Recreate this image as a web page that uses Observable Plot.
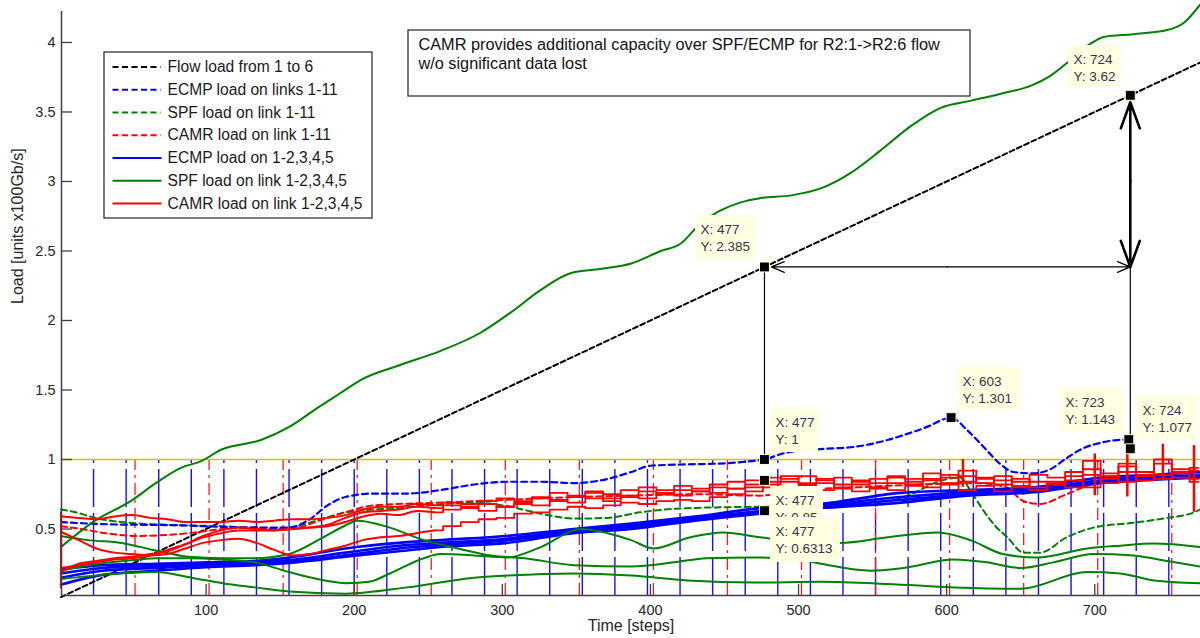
<!DOCTYPE html>
<html><head><meta charset="utf-8">
<script src="https://cdn.jsdelivr.net/npm/d3@7"></script>
<script src="https://cdn.jsdelivr.net/npm/@observablehq/plot@0.6"></script>
<style>
html,body{margin:0;padding:0;background:#fff;}
#chart{width:1200px;height:638px;overflow:hidden;}
</style></head><body><div id="chart"></div>
<script>
// ---------- tick labels ----------
const xTicks = [100, 200, 300, 400, 500, 600, 700];
const yTicks = [0.5, 1, 1.5, 2, 2.5, 3, 3.5, 4];

// ---------- event markers (vertical lines) ----------
const blueMarkX = [24,46,68,90,112,134,156,178,200,222,244,266,288,310,332,354,376,398,420,442,464,486,508,530,552,574,596,618,640,662,684,706,728,750];
const redMarkX = [52,102,152,202,252,302,352,402,452,502,552,602,652,702,752];
const capacityLevel = [1];

// ---------- Flow load from 1 to 6 ----------
const flowX = [2, 771];
const flowY = [0.01, 3.855];

// ---------- ECMP load on links 1-11 (blue dashed) ----------
const ecmpLinkX = [2, 30, 88, 111, 156, 170, 182, 194, 213, 236, 258, 281, 303, 326, 348, 371, 387, 400, 425, 450, 465, 477, 490, 515, 537, 560, 575, 588, 598, 603, 614, 625, 636, 645, 659, 670, 681, 692, 704, 715, 723];
const ecmpLinkY = [0.55, 0.535, 0.525, 0.515, 0.51, 0.57, 0.67, 0.73, 0.755, 0.755, 0.78, 0.82, 0.84, 0.84, 0.83, 0.86, 0.91, 0.955, 0.965, 0.972, 0.985, 1.0, 1.045, 1.075, 1.09, 1.14, 1.19, 1.24, 1.29, 1.301, 1.21, 1.09, 0.97, 0.91, 0.90, 0.93, 1.01, 1.08, 1.12, 1.14, 1.143];

// ---------- SPF load on link 1-11 (green dashed) ----------
const spfLinkX = [2, 12, 25, 43, 88, 111, 142, 156, 179, 194, 227, 249, 281, 303, 326, 348, 371, 393, 425, 470, 515, 560, 576, 594, 609, 617, 625, 633, 641, 652, 663, 681, 699, 726, 749, 767, 771];
const spfLinkY = [0.64, 0.62, 0.58, 0.55, 0.525, 0.52, 0.50, 0.51, 0.575, 0.62, 0.65, 0.67, 0.69, 0.665, 0.61, 0.575, 0.58, 0.62, 0.65, 0.66, 0.67, 0.70, 0.75, 0.84, 0.87, 0.76, 0.63, 0.52, 0.44, 0.33, 0.33, 0.44, 0.51, 0.545, 0.58, 0.62, 0.64];

// ---------- CAMR load on link 1-11 (red dashed) ----------
const camrLinkX = [2, 16, 32, 54, 88, 111, 133, 156, 179, 194, 213, 258, 303, 348, 387, 430, 474, 500, 540, 580, 620, 640, 652, 663, 681, 704, 740, 771];
const camrLinkY = [0.52, 0.50, 0.47, 0.45, 0.47, 0.50, 0.51, 0.50, 0.57, 0.62, 0.67, 0.69, 0.71, 0.73, 0.74, 0.75, 0.74, 0.78, 0.80, 0.82, 0.83, 0.80, 0.70, 0.68, 0.75, 0.84, 0.86, 0.88];

// ---------- ECMP load on 1-2,3,4,5 (blue solid, 4 links) ----------
const ecmpX = [2, 30, 66, 100, 133, 160, 194, 230, 258, 303, 348, 387, 430, 474, 515, 569, 614, 659, 704, 740, 771];
const ecmp1 = [0.21, 0.24, 0.25, 0.26, 0.27, 0.30, 0.36, 0.40, 0.42, 0.45, 0.50, 0.54, 0.59, 0.65, 0.68, 0.76, 0.78, 0.80, 0.87, 0.89, 0.91];
const ecmp2 = [0.18, 0.22, 0.235, 0.25, 0.26, 0.28, 0.33, 0.38, 0.40, 0.43, 0.49, 0.525, 0.58, 0.63, 0.67, 0.73, 0.765, 0.785, 0.85, 0.875, 0.89];
const ecmp3 = [0.15, 0.20, 0.22, 0.24, 0.25, 0.27, 0.31, 0.36, 0.385, 0.42, 0.48, 0.515, 0.57, 0.62, 0.66, 0.71, 0.75, 0.775, 0.84, 0.865, 0.88];
const ecmp4 = [0.10, 0.17, 0.20, 0.225, 0.24, 0.26, 0.30, 0.34, 0.37, 0.40, 0.47, 0.50, 0.56, 0.61, 0.65, 0.69, 0.74, 0.765, 0.83, 0.855, 0.87];

// ---------- SPF load on link 1-2,3,4,5 (green solid) ----------
const spfMainX = [2, 25, 49, 66, 83, 97, 110, 137, 157, 175, 191, 204, 231, 258, 285, 306, 326, 346, 366, 387, 407, 420, 434, 447, 461, 474, 495, 515, 535, 555, 576, 596, 616, 636, 657, 670, 682, 697, 706, 726, 749, 760, 771];
const spfMainY = [0.37, 0.56, 0.70, 0.83, 0.94, 0.99, 1.07, 1.14, 1.24, 1.37, 1.48, 1.57, 1.68, 1.78, 1.91, 2.06, 2.22, 2.34, 2.37, 2.41, 2.50, 2.55, 2.70, 2.79, 2.85, 2.88, 2.90, 2.95, 3.06, 3.22, 3.40, 3.53, 3.58, 3.63, 3.69, 3.76, 3.86, 3.99, 4.04, 4.06, 4.09, 4.14, 4.27];
const spfPX = [2, 20, 43, 66, 88, 111, 133, 156, 179, 194, 202, 224, 247, 270, 292, 315, 348, 387, 416, 438, 470, 500, 515, 549, 571, 605, 627, 650, 672, 699, 726, 749, 771];
const spfPY = [0.45, 0.42, 0.40, 0.345, 0.30, 0.29, 0.29, 0.32, 0.44, 0.525, 0.56, 0.51, 0.42, 0.36, 0.31, 0.29, 0.24, 0.23, 0.26, 0.29, 0.295, 0.28, 0.25, 0.20, 0.22, 0.28, 0.26, 0.22, 0.26, 0.32, 0.31, 0.27, 0.23];
const spfQX = [2, 20, 45, 66, 90, 111, 133, 156, 175, 195, 210, 224, 247, 258, 281, 303, 326, 353, 371, 387, 402, 427, 449, 474, 500, 528, 560, 594, 616, 638, 661, 695, 717, 740, 771];
const spfQY = [0.20, 0.24, 0.27, 0.29, 0.29, 0.28, 0.26, 0.19, 0.14, 0.11, 0.12, 0.18, 0.29, 0.32, 0.31, 0.295, 0.37, 0.50, 0.47, 0.42, 0.36, 0.44, 0.475, 0.44, 0.41, 0.40, 0.44, 0.475, 0.42, 0.32, 0.295, 0.36, 0.38, 0.395, 0.37];
const spfRX = [2, 30, 66, 90, 111, 133, 156, 194, 236, 281, 303, 348, 387, 425, 470, 515, 560, 605, 650, 695, 717, 740, 771];
const spfRY = [0.14, 0.17, 0.19, 0.15, 0.11, 0.08, 0.05, 0.035, 0.08, 0.15, 0.165, 0.18, 0.165, 0.13, 0.115, 0.12, 0.105, 0.08, 0.07, 0.19, 0.18, 0.13, 0.11];

// ---------- CAMR load on link 1-2,3,4,5 (red solid, 4 links) ----------
const camrX = [2,14,26,38,50,62,74,86,98,110,122,134,146,158,170,182,194,206,218,230,242,254,266,278,290,302,314,326,338,350,362,374,386,398,410,422,434,446,458,470,482,494,506,518,530,542,554,566,578,590,602,614,626,638,650,662,674,686,698,710,722,734,746,758,770];
const camr1 = [0.59,0.58,0.57,0.59,0.60,0.58,0.57,0.55,0.55,0.55,0.56,0.55,0.56,0.57,0.57,0.58,0.60,0.64,0.66,0.66,0.68,0.67,0.69,0.68,0.70,0.72,0.70,0.73,0.76,0.74,0.77,0.75,0.78,0.80,0.78,0.81,0.79,0.82,0.84,0.85,0.87,0.86,0.88,0.85,0.87,0.84,0.86,0.88,0.86,0.90,0.87,0.92,0.86,0.88,0.84,0.89,0.87,0.91,0.99,0.90,0.95,0.91,0.97,0.90,0.94];
const camr2 = [0.48,0.42,0.36,0.33,0.32,0.31,0.32,0.36,0.40,0.42,0.43,0.40,0.35,0.31,0.32,0.35,0.38,0.42,0.44,0.45,0.47,0.49,0.52,0.55,0.57,0.58,0.61,0.62,0.64,0.66,0.65,0.67,0.69,0.68,0.70,0.71,0.70,0.73,0.75,0.77,0.80,0.79,0.81,0.78,0.80,0.77,0.79,0.78,0.81,0.80,0.83,0.78,0.81,0.77,0.80,0.78,0.83,0.85,0.80,0.88,0.84,0.89,0.86,0.91,0.86];
const camr3 = [0.22,0.24,0.26,0.28,0.29,0.31,0.35,0.39,0.44,0.47,0.49,0.49,0.49,0.50,0.51,0.53,0.58,0.62,0.63,0.64,0.66,0.65,0.67,0.66,0.68,0.66,0.69,0.72,0.70,0.73,0.76,0.72,0.74,0.77,0.75,0.78,0.77,0.80,0.79,0.82,0.84,0.88,0.83,0.86,0.82,0.85,0.83,0.87,0.84,0.85,0.89,0.84,0.87,0.82,0.86,0.80,0.84,0.88,0.93,0.86,0.91,0.88,1.00,0.87,0.92];
const camr4 = [0.19,0.25,0.27,0.29,0.30,0.32,0.34,0.39,0.45,0.49,0.51,0.50,0.49,0.50,0.51,0.52,0.55,0.59,0.61,0.60,0.63,0.62,0.64,0.65,0.63,0.66,0.68,0.67,0.71,0.69,0.72,0.70,0.73,0.72,0.76,0.74,0.77,0.76,0.79,0.80,0.82,0.84,0.82,0.83,0.79,0.82,0.80,0.83,0.82,0.86,0.82,0.88,0.83,0.85,0.81,0.84,0.82,0.80,0.89,0.83,0.97,0.85,0.89,0.93,0.84];
const camrStartX = [2, 2];
const camrStartY = [0.08, 0.62];
const camrSpikeX = [611, 700, 722, 746, 767];
const camrSpikeLo = [0.80, 0.74, 0.73, 0.85, 0.62];
const camrSpikeHi = [1.00, 1.04, 1.08, 1.11, 1.10];
const camrNoisyFrom = 254; // the links become jittery after this step

// ---------- data tips ----------
const tipX = [477, 724, 477, 477, 477, 603, 723, 724];
const tipY = [2.385, 3.62, 1, 0.85, 0.6313, 1.301, 1.143, 1.077];

// ---------- legend ----------
const legendLabels = ["Flow load from 1 to 6", "ECMP load on links 1-11", "SPF load on link 1-11", "CAMR load on link 1-11", "ECMP load on 1-2,3,4,5", "SPF load on link 1-2,3,4,5", "CAMR load on link 1-2,3,4,5"];
const legendColors = ["#000000", "#0000ff", "#008000", "#ff0000", "#0000ff", "#008000", "#ff0000"];
const legendDashed = [true, true, true, true, false, false, false];

const noteLines = ["CAMR provides additional capacity over SPF/ECMP for R2:1->R2:6 flow", "w/o significant data lost"];

// ---------- layout ----------
const W = 1200, H = 638, ML = 61, MB = 43;
const xDomain = [2.36, 771.4], yDomain = [0.0216, 4.302];
const sx = Plot.scale({x: {domain: xDomain, range: [ML, W]}});
const sy = Plot.scale({y: {domain: yDomain, range: [H - MB, 0]}});
const ix = p => sx.invert(p), iy = p => sy.invert(p);
const FONT = "'Liberation Sans', Arial, Helvetica, sans-serif";

const rows = (xs, ys, key) => xs.map((x, i) => ({x, y: ys[i], key}));
const blueBundle = [ecmp1, ecmp2, ecmp3, ecmp4].flatMap((ys, k) => rows(ecmpX, ys, k));
const greenLows = [[spfPX, spfPY], [spfQX, spfQY], [spfRX, spfRY]].flatMap(([xs, ys], k) => rows(xs, ys, k));
const redBundle = [camr1, camr2, camr3, camr4].flatMap((ys, k) => rows(camrX, ys, k));

const tipBoxes = [
  [695, 215, 755, 260],
  [1068, 45, 1120, 86],
  [770, 408, 818, 452],
  [770, 486, 823, 520],
  [770, 517, 840, 562],
  [957, 367, 1020, 410],
  [1060, 388, 1122, 432],
  [1137, 396, 1197, 440]
];

const tipMarks = tipX.flatMap((x, i) => {
  const b = tipBoxes[i];
  const lines = [
    {x: ix(b[0] + 5), y: iy(b[1] + 14), t: `X: ${x}`},
    {x: ix(b[0] + 5), y: iy(b[1] + 31), t: `Y: ${tipY[i]}`}
  ];
  return [
    Plot.rect([{x1: ix(b[0]), x2: ix(b[2]), y1: iy(b[3]), y2: iy(b[1])}], {x1: "x1", x2: "x2", y1: "y1", y2: "y2", fill: "#ffffe1"}),
    Plot.text(lines, {x: "x", y: "y", text: "t", textAnchor: "start", fontSize: 13.5, fill: "#33334a"})
  ];
});

const legendRows = legendLabels.map((label, i) => ({label, color: legendColors[i], dashed: legendDashed[i], y: iy(66.5 + 22.75 * i)}));

const mid = (a, b) => (a + b) / 2;
const hArrowY = tipY[0];
const marks = [
  Plot.ruleX(blueMarkX, {y1: yDomain[0], y2: capacityLevel[0], stroke: "#1010ff", strokeWidth: 1.4, strokeDasharray: "38,6"}),
  Plot.ruleX(redMarkX, {y1: yDomain[0], y2: capacityLevel[0], stroke: "#ff1a1a", strokeWidth: 1.3, strokeDasharray: "12,5,3,5"}),
  Plot.ruleY(capacityLevel, {stroke: "#c8c800", strokeWidth: 1.3}),
  Plot.line(rows(flowX, flowY), {x: "x", y: "y", stroke: "#000", strokeWidth: 2, strokeDasharray: "5,3"}),
  Plot.line(rows(spfLinkX, spfLinkY), {x: "x", y: "y", stroke: "#008000", strokeWidth: 2, strokeDasharray: "6,4", curve: "monotone-x"}),
  Plot.line(rows(camrLinkX, camrLinkY), {x: "x", y: "y", stroke: "#ff0000", strokeWidth: 2, strokeDasharray: "6,4", curve: "monotone-x"}),
  Plot.line(rows(ecmpLinkX, ecmpLinkY), {x: "x", y: "y", stroke: "#0000ff", strokeWidth: 2.2, strokeDasharray: "6,4", curve: "monotone-x"}),
  Plot.line(blueBundle, {x: "x", y: "y", z: "key", stroke: "#0000ff", strokeWidth: 2.6, curve: "monotone-x"}),
  Plot.line(greenLows, {x: "x", y: "y", z: "key", stroke: "#008000", strokeWidth: 2, curve: "monotone-x"}),
  Plot.line(rows(spfMainX, spfMainY), {x: "x", y: "y", stroke: "#008000", strokeWidth: 2, curve: "monotone-x"}),
  Plot.line(redBundle.filter(d => d.x <= camrNoisyFrom), {x: "x", y: "y", z: "key", stroke: "#ff0000", strokeWidth: 2, curve: "monotone-x"}),
  Plot.line(redBundle.filter(d => d.x >= camrNoisyFrom), {x: "x", y: "y", z: "key", stroke: "#ff0000", strokeWidth: 1.8, curve: "step"}),
  Plot.line(rows(camrStartX, camrStartY), {x: "x", y: "y", stroke: "#ff0000", strokeWidth: 2}),
  Plot.ruleX(camrSpikeX.map((x, i) => ({x, lo: camrSpikeLo[i], hi: camrSpikeHi[i]})), {x: "x", y1: "lo", y2: "hi", stroke: "#ff0000", strokeWidth: 2.5}),
  // axes
  Plot.axisX(xTicks, {tickSize: 0, tickPadding: 9, fontSize: 14.5, label: null, tickFormat: d => String(d)}),
  Plot.axisY(yTicks, {tickSize: 0, tickPadding: 6, fontSize: 14.5, label: null, tickFormat: d => String(d)}),
  Plot.ruleX([xDomain[0]], {y1: yDomain[0], y2: iy(11), stroke: "#404040", strokeWidth: 1.5}),
  Plot.ruleY([yDomain[0]], {stroke: "#404040", strokeWidth: 1.5}),
  Plot.ruleX(xTicks, {y1: yDomain[0], y2: iy(H - MB - 11), stroke: "#404040", strokeWidth: 1.3}),
  Plot.ruleY(yTicks, {x1: xDomain[0], x2: ix(ML + 11), stroke: "#404040", strokeWidth: 1.3}),
  Plot.text(["Time [steps]"], {frameAnchor: "bottom", dy: 35, fontSize: 16, fill: "#262626"}),
  Plot.text(["Load [units x100Gb/s]"], {frameAnchor: "left", dx: -44, dy: 6, rotate: -90, fontSize: 16, fill: "#262626"}),
  // legend
  Plot.rect([{x1: ix(104), x2: ix(372), y1: iy(218), y2: iy(52)}], {x1: "x1", x2: "x2", y1: "y1", y2: "y2", fill: "white", stroke: "#333", strokeWidth: 1.3}),
  Plot.link(legendRows.filter(d => d.dashed), {x1: ix(112), x2: ix(160), y1: "y", y2: "y", stroke: "color", strokeWidth: 2, strokeDasharray: "6,3.5"}),
  Plot.link(legendRows.filter(d => !d.dashed), {x1: ix(112), x2: ix(161), y1: "y", y2: "y", stroke: "color", strokeWidth: 2.2}),
  Plot.text(legendRows, {x: ix(167), y: "y", text: "label", textAnchor: "start", fontSize: 15.6, fill: "#1a1a1a"}),
  // note box
  Plot.rect([{x1: ix(408), x2: ix(970), y1: iy(96), y2: iy(30)}], {x1: "x1", x2: "x2", y1: "y1", y2: "y2", fill: "white", stroke: "#333", strokeWidth: 1.3}),
  Plot.text(noteLines.map((t, i) => ({t, y: iy(44 + 19.5 * i)})), {x: ix(418), y: "y", text: "t", textAnchor: "start", fontSize: 16.3, fill: "#111"}),
  // annotation lines / arrows
  Plot.link([{x: tipX[0], y1: tipY[2], y2: tipY[0]}], {x1: "x", x2: "x", y1: "y1", y2: "y2", stroke: "#000", strokeWidth: 1.2}),
  Plot.link([{x: tipX[1], y1: tipY[6], y2: hArrowY}], {x1: "x", x2: "x", y1: "y1", y2: "y2", stroke: "#000", strokeWidth: 1.2}),
  Plot.arrow([{x1: mid(tipX[0], tipX[1]), x2: tipX[0]}], {x1: "x1", x2: "x2", y1: hArrowY, y2: hArrowY, stroke: "#000", strokeWidth: 1.3, headLength: 16, headAngle: 45, insetEnd: 7}),
  Plot.arrow([{x1: mid(tipX[0], tipX[1]), x2: tipX[1]}], {x1: "x1", x2: "x2", y1: hArrowY, y2: hArrowY, stroke: "#000", strokeWidth: 1.3, headLength: 16, headAngle: 45, insetEnd: 0}),
  Plot.arrow([{y1: mid(hArrowY, tipY[1]), y2: tipY[1]}], {x1: tipX[1], x2: tipX[1], y1: "y1", y2: "y2", stroke: "#000", strokeWidth: 2.6, headLength: 16, headAngle: 40, insetEnd: 7}),
  Plot.arrow([{y1: mid(hArrowY, tipY[1]), y2: hArrowY}], {x1: tipX[1], x2: tipX[1], y1: "y1", y2: "y2", stroke: "#000", strokeWidth: 2.6, headLength: 16, headAngle: 40, insetEnd: 0}),
  ...tipMarks,
  Plot.dot(tipX.map((x, i) => ({x, y: tipY[i]})), {x: "x", y: "y", symbol: "square", r: 5.6, fill: "#000", stroke: "#ffffd0", strokeWidth: 1})
];

const chart = Plot.plot({
  width: W, height: H,
  marginLeft: ML, marginRight: 0, marginTop: 0, marginBottom: MB,
  x: {domain: xDomain},
  y: {domain: yDomain},
  color: {type: "identity"},
  style: {fontFamily: FONT, fontSize: "14.5px", color: "#262626", background: "white", overflow: "visible"},
  marks
});
document.getElementById("chart").appendChild(chart);
</script>
</body></html>
